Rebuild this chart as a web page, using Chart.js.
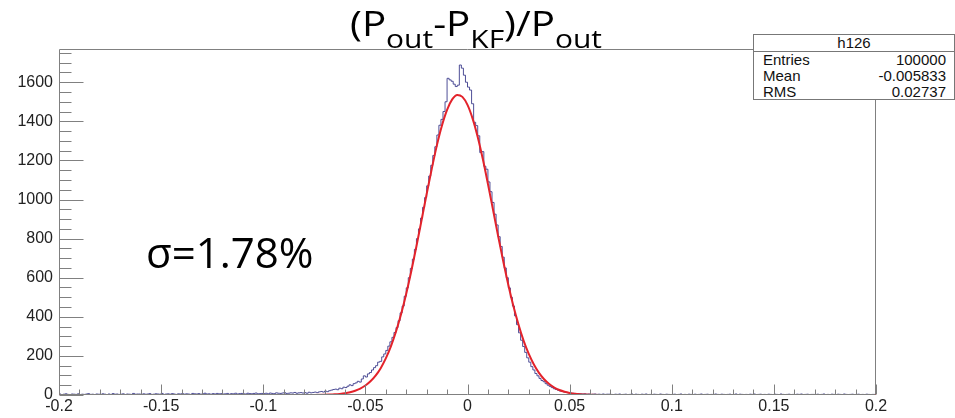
<!DOCTYPE html>
<html><head><meta charset="utf-8">
<script src="https://cdn.jsdelivr.net/npm/chart.js@4.4.1/dist/chart.umd.min.js"></script>
<style>
html,body{margin:0;padding:0;background:#fff;}
#wrap{position:relative;width:955px;height:418px;overflow:hidden;background:#fff;}
#c{position:absolute;left:0;top:0;}
#title{position:absolute;left:350px;top:3px;font-family:'Open Sans';font-size:35px;line-height:40px;color:#000;white-space:nowrap;transform-origin:0 0;}
#title .s{font-size:26px;position:relative;top:12px;}
#sigma{position:absolute;left:146px;top:231px;font-family:'Open Sans';font-size:42px;line-height:42px;color:#000;white-space:nowrap;}
#stats{position:absolute;left:753px;top:34px;width:200px;height:64px;border:1px solid #777;background:#fff;font-family:'Liberation Sans',Arial,sans-serif;font-size:15px;color:#111;}
#stats .hd{position:absolute;left:0;right:0;top:0;height:16px;line-height:16px;text-align:center;border-bottom:1px solid #777;}
#stats .row{position:absolute;left:9px;right:8px;height:16px;line-height:16px;}
#stats .row .v{position:absolute;right:0;top:0;}
</style></head>
<body>
<div id="wrap">
<canvas id="c" width="955" height="418"></canvas>
<div id="title">(P<span class="s">out</span>-P<span class="s">KF</span>)/P<span class="s">out</span></div>
<div id="sigma">σ=1.78%</div>
<div id="stats"></div>
</div>
<script>
// ---------- data ----------
const binLow = -0.2;
const binWidth = 0.001;
const histCounts = [
 3,5,2,4,6,3,2,5,4,3,6,2,4,3,5,7,3,4,2,5,
 4,3,6,4,2,5,3,7,4,5,3,4,6,2,5,4,3,8,4,5,
 5,3,6,4,5,7,3,4,6,5,4,8,3,5,6,4,7,5,3,6,
 5,7,4,6,5,3,8,6,5,7,4,6,9,5,6,4,7,5,8,6,
 7,5,6,8,4,7,6,9,5,7,8,6,5,9,7,6,8,10,6,7,
 8,7,9,6,10,8,7,11,9,8,10,12,8,9,11,10,13,9,11,12,
 10,12,9,14,11,13,15,12,16,18,15,20,17,22,25,
 28,30,27,35,32,40,38,45,52,48,58,62,70,66,82,
 98,92,108,115,128,140,150,168,172,195,210,228,250,272,295,
 320,345,380,420,455,505,548,600,648,695,745,800,850,905,960,
 1010,1070,1120,1175,1225,1270,1330,1380,1410,1450,1500,1620,1612,1605,1590,
 1578,1585,1688,1672,1636,1600,1575,1560,1490,1395,1378,1326,1240,1245,1170,
 1155,1090,1040,985,925,870,810,760,705,650,600,548,500,455,405,
 360,318,280,248,218,190,168,145,128,110,98,85,74,68,58,
 50,44,38,32,28,24,20,18,15,13,11,10,9,8,7,
 7,6,5,6,4,5,3,4,5,3,4,3,5,3,4,
 4,3,2,4,3,5,2,3,4,2,3,5,2,4,3,2,4,3,5,2,
 3,2,4,3,2,5,3,2,4,3,2,3,4,2,3,5,2,3,2,4,
 3,2,4,2,3,5,2,3,4,2,3,2,5,3,2,4,3,2,3,4,
 2,3,5,2,4,3,2,3,2,4,3,5,2,3,4,2,3,2,4,3,
 2,4,3,2,5,3,2,3,4,2,3,2,4,3,5,2,3,4,2,3,
 3,2,4,2,3,5,2,3,2,4,3,2,4,3,2,5,3,2,3,4,
 2,3,4,2,3,2,4,3,2,3
];
const fitX = [-0.2,-0.085,-0.08,-0.075,-0.07,-0.0675,-0.065,-0.0625,-0.06,-0.0575,-0.055,-0.0525,-0.05,-0.0475,-0.045,-0.0425,-0.04,-0.0375,-0.035,-0.0325,-0.03,-0.0275,-0.025,-0.0225,-0.02,-0.0175,-0.015,-0.0125,-0.01,-0.0075,-0.005,-0.0025,0,0.0025,0.005,0.0075,0.01,0.0125,0.015,0.0175,0.02,0.0225,0.025,0.0275,0.03,0.0325,0.035,0.0375,0.04,0.0425,0.045,0.0475,0.05,0.0525,0.055,0.0575,0.06,0.065,0.07,0.075,0.2];
const fitY = [0,0,0.1,0.4,1.2,2,3.4,5.6,8.9,14.1,21.7,32.7,48.3,69.9,99.1,137.4,187,248.7,324.5,414,518,634,761,894,1028,1157,1277,1379,1459,1512,1535,1525,1484,1414,1320,1207,1080,947,813,684,563,454,359,277,210,156,113,80.6,56.2,38.3,25.6,16.7,10.7,6.7,4.1,2.5,1.5,0.5,0.1,0,0];
const xTickValues = [-0.2,-0.15,-0.1,-0.05,0,0.05,0.1,0.15,0.2];
const xTickLabels = ['-0.2','-0.15','-0.1','-0.05','0','0.05','0.1','0.15','0.2'];
const yTickValues = [0,200,400,600,800,1000,1200,1400,1600];
const yTickLabels = ['0','200','400','600','800','1000','1200','1400','1600'];
const yMax = 1770;
const statsName = 'h126';
const statsLabels = ['Entries','Mean','RMS'];
const statsValues = ['100000','-0.005833','0.02737'];

// ---------- stats box ----------
const sb = document.getElementById('stats');
sb.innerHTML = '<div class="hd">'+statsName+'</div>' + statsLabels.map((l,i)=>
  '<div class="row" style="top:'+(17+16*i)+'px">'+l+'<span class="v">'+statsValues[i]+'</span></div>').join('');

// title width fit
const t = document.getElementById('title');
const tw = t.getBoundingClientRect().width;
t.style.transform = 'scaleX(' + (252/tw) + ')';

// ---------- chart ----------
const histPts = [];
for (let i=0;i<histCounts.length;i++) histPts.push({x: binLow + i*binWidth, y: histCounts[i]});
histPts.push({x: binLow + histCounts.length*binWidth, y: histCounts[histCounts.length-1]});
const fitPts = fitX.map((x,i)=>({x, y: fitY[i]}));

const rootFrame = {
  id:'rootFrame',
  afterDatasetsDraw(chart){
    const {ctx, chartArea:a, scales:{x,y}} = chart;
    ctx.save();
    ctx.strokeStyle = '#808080'; ctx.lineWidth = 1;
    ctx.beginPath();
    const L = Math.round(a.left)+0.5, B = Math.round(a.bottom)-0.5, R = Math.round(a.right)-0.5, T = Math.round(a.top)+0.5;
    ctx.moveTo(L,T); ctx.lineTo(R,T); ctx.lineTo(R,B); ctx.lineTo(L,B); ctx.closePath();
    for (let i=0;i<=40;i++){
      const v = -0.2 + i*0.01;
      const px = Math.round(x.getPixelForValue(v))+0.5;
      const len = (i%5===0)?10:5;
      ctx.moveTo(px,B); ctx.lineTo(px,B-len);
    }
    for (let i=0;i*50<=yMax;i++){
      const py = Math.round(y.getPixelForValue(i*50))+0.5;
      const len = (i%4===0)?24:12;
      ctx.moveTo(L,py); ctx.lineTo(L+len,py);
    }
    ctx.stroke();
    ctx.restore();
  }
};

new Chart(document.getElementById('c'), {
  type:'line',
  data:{datasets:[
    {data:fitPts, borderColor:'#e3232b', borderWidth:2, pointRadius:0, tension:0.4, cubicInterpolationMode:'monotone', order:0, fill:false},
    {data:histPts, borderColor:'rgba(60,60,140,0.9)', borderWidth:1, pointRadius:0, stepped:'after', order:1, fill:false}
  ]},
  options:{
    responsive:false, animation:false, devicePixelRatio:1,
    layout:{padding:{top:49,right:79,left:0,bottom:0}},
    plugins:{legend:{display:false}, tooltip:{enabled:false}, title:{display:false}},
    scales:{
      x:{type:'linear', min:-0.2, max:0.2,
         afterFit(s){ s.height = 23; },
         afterBuildTicks(s){ s.ticks = xTickValues.map(v=>({value:v})); },
         ticks:{callback:(v,i)=>xTickLabels[i], padding:2, maxRotation:0, autoSkip:false, color:'#222', font:{family:'Liberation Sans', size:16}},
         grid:{display:false, drawTicks:false}, border:{display:false}},
      y:{type:'linear', min:0, max:yMax,
         afterFit(s){ s.width = 59; },
         afterBuildTicks(s){ s.ticks = yTickValues.map(v=>({value:v})); },
         ticks:{callback:(v,i)=>yTickLabels[i], padding:6, autoSkip:false, color:'#222', font:{family:'Liberation Sans', size:16}},
         grid:{display:false, drawTicks:false}, border:{display:false}}
    }
  },
  plugins:[rootFrame]
});
</script>
</body></html>
